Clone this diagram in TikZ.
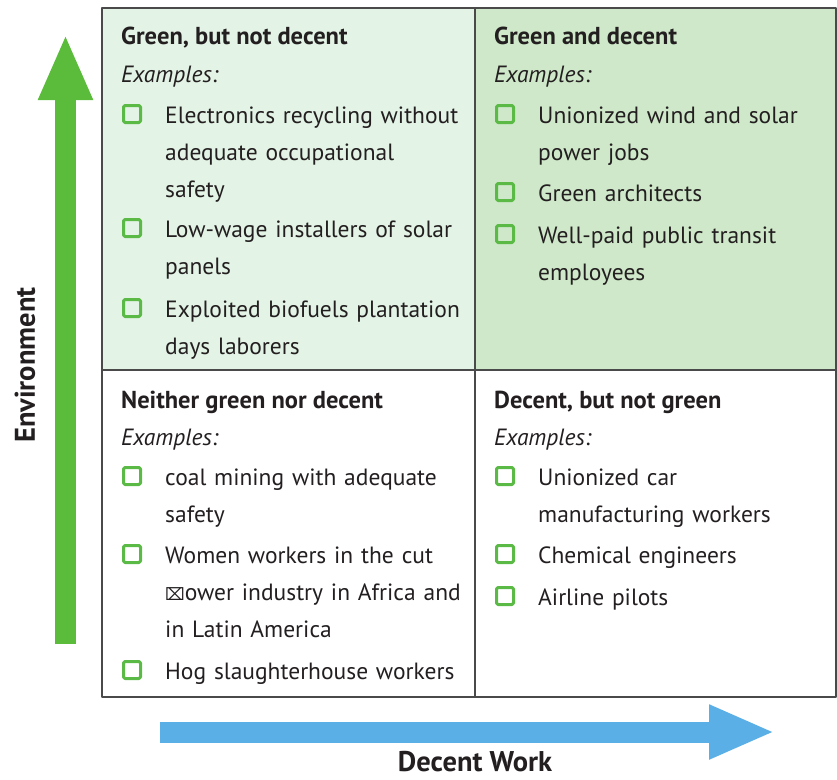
\documentclass[tikz,border=0pt]{standalone}
\usepackage{fontspec}
\setmainfont{PT Sans}
\newfontfamily\symfont{DejaVu Sans}
\usepackage{xcolor}
\usetikzlibrary{arrows.meta}
\definecolor{tlgreen}{HTML}{E3F3E5}
\definecolor{trgreen}{HTML}{CFE8C9}
\definecolor{boxgreen}{HTML}{5BB946}
\definecolor{envgreen}{HTML}{5BBB3B}
\definecolor{workblue}{HTML}{5AAFE6}
\definecolor{gridgray}{HTML}{4A4A4A}
\definecolor{inkgray}{HTML}{231F20}
\tikzset{
  every picture/.style={line join=round, >=Stealth},
  txt/.style={anchor=base west, inner sep=0pt, text=inkgray, font=\fontsize{23.5}{37}\selectfont},
  head/.style={txt, font=\fontsize{24.5}{37}\selectfont\bfseries},
  ex/.style={txt, font=\fontsize{23.5}{37}\selectfont\itshape},
  item/.style={txt, text width=320pt, align=left},
  chkbox/.style={draw=boxgreen, line width=3pt, rounded corners=1.5pt, minimum size=17pt, inner sep=0pt},
  axis/.style={line width=21pt, -{Triangle[length=66pt,width=50pt]}},
  axislabel/.style={text=inkgray, inner sep=1pt, font=\fontsize{28.5}{32}\selectfont\bfseries},
}

\begin{document}
\begin{tikzpicture}[x=1pt,y=-1pt]
\useasboundingbox (0,0) rectangle (837,779);
% quadrants
\fill[tlgreen] (102,8) rectangle (475,370);
\fill[trgreen] (475,8) rectangle (836,370);
\draw[gridgray, line width=2pt] (102,8) rectangle (836,697);
\draw[gridgray, line width=2pt] (475,8) -- (475,697);
\draw[gridgray, line width=2pt] (102,370) -- (836,370);

% green, but not decent
\node[head] (tl-head) at (121,44) {Green, but not decent};
\node[ex] (tl-ex) at (121,82) {Examples:};
\node[item] (tl-i1) at (165,123) {Electronics recycling without\\adequate occupational\\safety};
\node[item] (tl-i2) at (165,237) {Low-wage installers of solar\\panels};
\node[item] (tl-i3) at (165,317) {Exploited biofuels plantation\\days laborers};

% green and decent
\node[head] (tr-head) at (494,44) {Green and decent};
\node[ex] (tr-ex) at (494,82) {Examples:};
\node[item] (tr-i1) at (538,123) {Unionized wind and solar\\power jobs};
\node[item] (tr-i2) at (538,201) {Green architects};
\node[item] (tr-i3) at (538,243) {Well-paid public transit\\employees};

% neither green nor decent
\node[head] (bl-head) at (121,408) {Neither green nor decent};
\node[ex] (bl-ex) at (121,445) {Examples:};
\node[item] (bl-i1) at (165,485) {coal mining with adequate\\safety};
\node[item] (bl-i2) at (165,563) {Women workers in the cut\\{\symfont\fontsize{17}{37}\selectfont ⌧}ower industry in Africa and\\in Latin America};
\node[item] (bl-i3) at (165,679) {Hog slaughterhouse workers};

% decent, but not green
\node[head] (br-head) at (494,408) {Decent, but not green};
\node[ex] (br-ex) at (494,445) {Examples:};
\node[item] (br-i1) at (538,485) {Unionized car\\manufacturing workers};
\node[item] (br-i2) at (538,563) {Chemical engineers};
\node[item] (br-i3) at (538,605) {Airline pilots};

\foreach \n in {tl-i1,tl-i2,tl-i3,tr-i1,tr-i2,tr-i3,bl-i1,bl-i2,bl-i3,br-i1,br-i2,br-i3}
  \node[chkbox, xshift=-33pt, yshift=9pt] (\n-box) at (\n.base west) {};

% axes
\coordinate (env-from) at (65.5,644);
\coordinate (env-to) at (65.5,34);
\coordinate (work-from) at (160,732);
\coordinate (work-to) at (775,732);
\draw[axis, envgreen] (env-from) -- (env-to);
\draw[axis, workblue] (work-from) -- (work-to);
\node[axislabel, rotate=90] (env) at (25,365) {Environment};
\node[axislabel] (work) at (475,762) {Decent Work};
\end{tikzpicture}
\end{document}
